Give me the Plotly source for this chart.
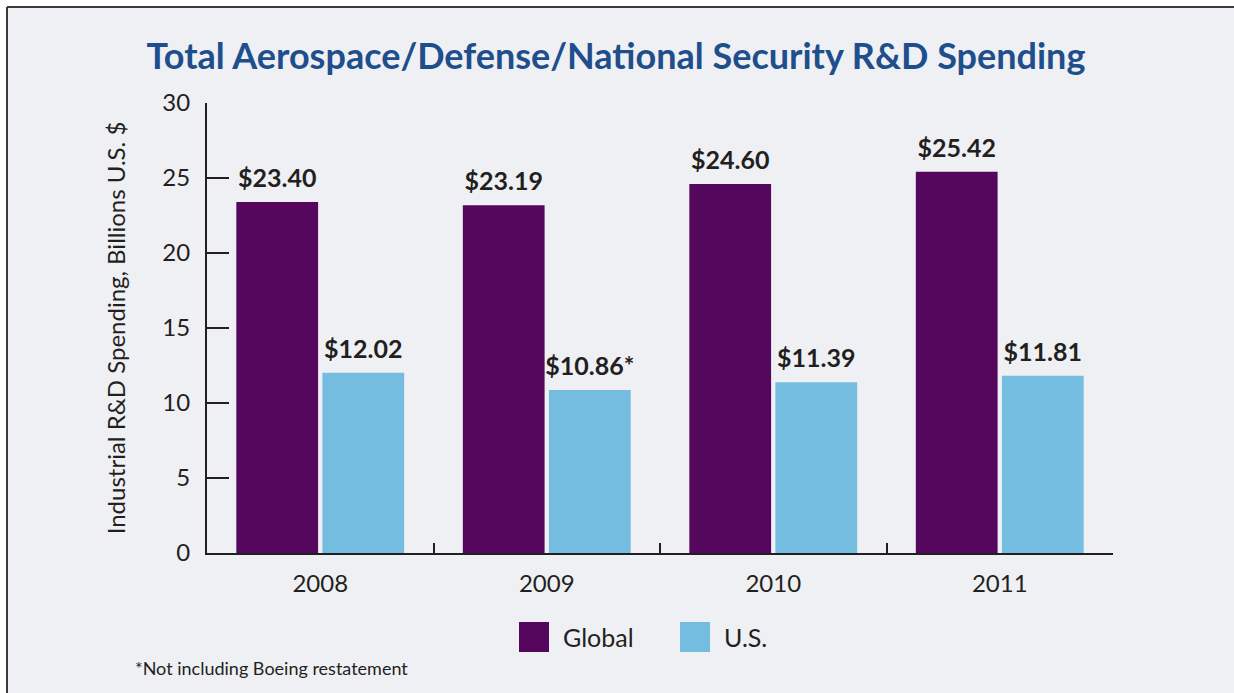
import plotly.graph_objects as go

years = ["2008", "2009", "2010", "2011"]
series_names = ["Global", "U.S."]
global_vals = [23.40, 23.19, 24.60, 25.42]
us_vals = [12.02, 10.86, 11.39, 11.81]
global_labels = ["$23.40", "$23.19", "$24.60", "$25.42"]
us_labels = ["$12.02", "$10.86*", "$11.39", "$11.81"]
y_ticks = [0, 5, 10, 15, 20, 25, 30]

PURPLE = "#55075e"
BLUE = "#74bde0"
COLORS = [PURPLE, BLUE]
DARK = "#231f20"
BG = "#eff0f4"
FONT = "Lato"

W, H = 1234, 693
L, R, T, B = 207, 1113, 103, 553
pw, ph = R - L, B - T

def px_x(x):
    return (x - L) / pw

def px_y(y):
    return (B - y) / ph

fig = go.Figure()
for name, vals, col in zip(series_names, [global_vals, us_vals], COLORS):
    fig.add_trace(go.Bar(x=years, y=vals, name=name, marker_color=col,
                         marker_line_width=0, offsetgroup=name, showlegend=False))
# value labels, grouped to sit over their bars
for name, vals, labels in zip(series_names, [global_vals, us_vals], [global_labels, us_labels]):
    fig.add_trace(go.Scatter(x=years, y=vals, mode="markers+text", text=labels,
                             textposition="top center", cliponaxis=False,
                             marker=dict(size=12, opacity=0), offsetgroup=name,
                             hoverinfo="skip", showlegend=False,
                             textfont=dict(family=FONT, size=25, color=DARK, weight="bold")))

shapes = [
    dict(type="rect", xref="paper", yref="paper", layer="below",
         x0=px_x(7), x1=px_x(W + 20), y0=px_y(7), y1=px_y(H + 20),
         fillcolor=BG, line=dict(width=0)),
    dict(type="line", xref="paper", yref="paper", layer="below",
         x0=px_x(7), x1=px_x(7), y0=px_y(7), y1=px_y(H + 20),
         line=dict(color="#3a3a3a", width=2)),
    dict(type="line", xref="paper", yref="paper", layer="below",
         x0=px_x(7), x1=px_x(W + 20), y0=px_y(7), y1=px_y(7),
         line=dict(color="#3a3a3a", width=2)),
]
annotations = [dict(text="*Not including Boeing restatement", xref="paper", yref="paper",
                    x=px_x(133), y=px_y(668), xanchor="left", yanchor="middle",
                    showarrow=False, font=dict(family=FONT, size=18, color=DARK))]
# legend: large square swatches + names
legend_left = [519, 680]
for name, col, lx in zip(series_names, COLORS, legend_left):
    shapes.append(dict(type="rect", xref="paper", yref="paper", layer="above",
                       x0=px_x(lx), x1=px_x(lx + 30), y0=px_y(622), y1=px_y(652),
                       fillcolor=col, line=dict(width=0)))
    annotations.append(dict(text=name, xref="paper", yref="paper",
                            x=px_x(lx + 42), y=px_y(637), xanchor="left", yanchor="middle",
                            showarrow=False, font=dict(family=FONT, size=25, color=DARK)))

fig.update_layout(
    width=W, height=H,
    margin=dict(l=L, r=W - R, t=T, b=H - B, autoexpand=False),
    paper_bgcolor="white", plot_bgcolor=BG,
    barmode="group", bargap=0.24, bargroupgap=0.05,
    scattermode="group", scattergap=0.24,
    showlegend=False,
    font=dict(family=FONT, color=DARK),
    title=dict(text="Total Aerospace/Defense/National Security R&D Spending",
               font=dict(family=FONT, size=36, color="#1f4e8c", weight="bold"),
               xref="container", x=616 / W, xanchor="center",
               yref="container", y=1 - 56 / H, yanchor="middle"),
    shapes=shapes,
    annotations=annotations,
)

fig.update_xaxes(type="category", showline=True, linecolor=DARK, linewidth=2,
                 ticks="inside", tickson="boundaries", ticklen=10, tickwidth=2,
                 tickcolor=DARK, tickfont=dict(family=FONT, size=24, color=DARK),
                 ticklabelstandoff=8,
                 showgrid=False, zeroline=False, layer="below traces")
fig.update_yaxes(range=[0, 30], tickvals=y_ticks, showline=True, linecolor=DARK,
                 linewidth=2, ticks="inside", ticklen=22, tickwidth=2, tickcolor=DARK,
                 tickfont=dict(family=FONT, size=24, color=DARK), ticklabelstandoff=10,
                 showgrid=False, zeroline=False,
                 title=dict(text="Industrial R&D Spending, Billions U.S. $",
                            font=dict(family=FONT, size=24, color=DARK), standoff=30))

fig.write_html("out.html", config={"displayModeBar": False},
               post_script=("document.documentElement.style.overflow='hidden';"
                            "document.body.style.margin='0';"
                            "document.body.style.overflow='hidden';"))
